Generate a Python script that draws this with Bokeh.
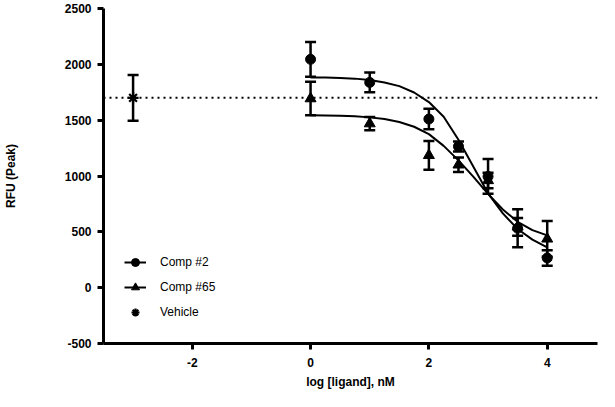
from bokeh.plotting import figure
from bokeh.models import (ColumnDataSource, Whisker, TeeHead, Span, Legend,
                          LegendItem, FixedTicker, Range1d)
from bokeh.embed import file_html
from bokeh.resources import INLINE

# ---- data ----
log_conc = [0, 1, 2, 2.5, 3, 3.5, 4]
comp2_mean = [2045, 1838, 1510, 1265, 996, 532, 266]
comp2_sem = [156, 88, 92, 45, 156, 170, 70]
comp65_mean = [1693, 1469, 1185, 1100, 960, 545, 437]
comp65_sem = [150, 60, 128, 65, 70, 80, 160]

vehicle_x = [-3]
vehicle_mean = [1700]
vehicle_sem = [205]

fit_x = [0, 0.25, 0.5, 0.75, 1.0, 1.25, 1.5, 1.75, 2.0, 2.25, 2.5, 2.75,
         3.0, 3.25, 3.5, 3.75, 4.0]
comp2_fit = [1883, 1881, 1878, 1872, 1860, 1838, 1805, 1748, 1662, 1530,
             1325, 1085, 845, 665, 525, 430, 360]
comp65_fit = [1543, 1541, 1539, 1534, 1525, 1510, 1484, 1441, 1375, 1270,
              1140, 995, 840, 700, 590, 515, 468]

x_ticks = [-2, 0, 2, 4]
y_ticks = [-500, 0, 500, 1000, 1500, 2000, 2500]

FONT = "Liberation Sans"

p = figure(width=599, height=391, output_backend="svg", toolbar_location=None,
           x_range=Range1d(-3.5, 4.85), y_range=Range1d(-500, 2500),
           min_border_left=100, min_border_right=2, min_border_top=8,
           min_border_bottom=47)
p.outline_line_color = None
p.xgrid.visible = False
p.ygrid.visible = False
p.background_fill_color = "white"

for ax in (p.xaxis[0], p.yaxis[0]):
    ax.axis_line_width = 3
    ax.axis_line_color = "black"
    ax.major_tick_line_width = 3
    ax.major_tick_line_color = "black"
    ax.major_tick_out = 6
    ax.major_tick_in = 0
    ax.minor_tick_line_color = None
    ax.major_label_text_font = FONT
    ax.major_label_text_font_style = "bold"
    ax.major_label_text_font_size = "12px"
    ax.major_label_text_color = "black"
    ax.axis_label_text_font = FONT
    ax.axis_label_text_font_style = "bold"
    ax.axis_label_text_font_size = "12px"
    ax.axis_label_text_color = "black"

p.xaxis.ticker = FixedTicker(ticks=x_ticks)
p.yaxis.ticker = FixedTicker(ticks=y_ticks)
p.xaxis.major_label_overrides = {-2: "-2"}
p.yaxis.major_label_overrides = {-500: "-500"}
p.xaxis.axis_label = "log [ligand], nM"
p.yaxis.axis_label = "RFU (Peak)"
p.xaxis.major_label_standoff = 8
p.xaxis.axis_label_standoff = 5
p.yaxis.major_label_standoff = 6
p.yaxis.axis_label_standoff = 44

# vehicle mean dotted reference line
p.add_layout(Span(location=vehicle_mean[0], dimension="width",
                  line_color="black", line_width=2, line_dash="2 4"))

# fitted curves
l2 = p.line(fit_x, comp2_fit, line_color="black", line_width=2)
l65 = p.line(fit_x, comp65_fit, line_color="black", line_width=2)

def add_errors(xs, means, sems):
    src = ColumnDataSource(dict(
        x=xs,
        upper=[m + s for m, s in zip(means, sems)],
        lower=[m - s for m, s in zip(means, sems)]))
    w = Whisker(base="x", upper="upper", lower="lower", source=src,
                line_color="black", line_width=2.5,
                upper_head=TeeHead(size=11, line_width=2.5, line_color="black"),
                lower_head=TeeHead(size=11, line_width=2.5, line_color="black"))
    w.level = "glyph"
    p.add_layout(w)

add_errors(log_conc, comp2_mean, comp2_sem)
add_errors(log_conc, comp65_mean, comp65_sem)
add_errors(vehicle_x, vehicle_mean, vehicle_sem)

s65 = p.scatter(log_conc, comp65_mean, marker="triangle", size=11,
                fill_color="black", line_color="black")
s2 = p.scatter(log_conc, comp2_mean, marker="circle", size=10,
               fill_color="black", line_color="black")
sv = p.scatter(vehicle_x, vehicle_mean, marker="asterisk", size=11,
               line_color="black", line_width=2.2)

legend = Legend(items=[
    LegendItem(label="Comp #2", renderers=[l2, s2]),
    LegendItem(label="Comp #65", renderers=[l65, s65]),
    LegendItem(label="Vehicle", renderers=[sv]),
], location=(21, 21))
legend.border_line_color = None
legend.background_fill_alpha = 0
legend.padding = 0
legend.margin = 0
legend.spacing = 5
legend.glyph_width = 22
legend.glyph_height = 20
legend.label_standoff = 14
legend.label_text_font = FONT
legend.label_text_font_size = "12px"
legend.label_text_color = "black"
p.add_layout(legend)

open("out.html", "w").write(file_html(p, INLINE))
